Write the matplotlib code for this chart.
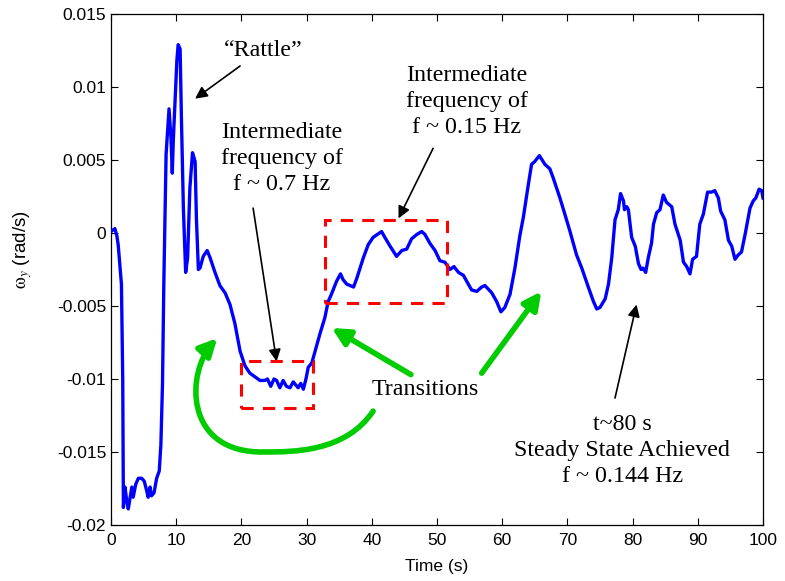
import numpy as np
import matplotlib.pyplot as plt
from matplotlib.path import Path
from matplotlib.patches import FancyArrowPatch, Rectangle

# ========== Data ==========
time_s = [0.0, 0.6, 0.9, 1.1, 1.6, 1.8, 1.9, 2.15, 2.4, 2.65, 3.2, 3.4, 3.8, 4.2, 4.7,
          5.1, 5.5, 5.7, 6.0, 6.2, 6.6, 7.0, 7.4, 7.65, 7.9, 8.1, 8.45, 8.9, 9.2, 9.4,
          9.55, 10.1, 10.3, 10.6, 10.8, 11.1, 11.45, 11.75, 12.1, 12.5, 12.9, 13.1, 13.4,
          13.65, 14.15, 14.75, 15.2, 15.95, 16.7, 17.5, 18.25, 19.0, 19.8, 20.55, 21.3,
          22.85, 23.6, 24.0, 24.5, 25.0, 25.4, 25.9, 26.4, 26.9, 27.45, 27.95, 28.7, 29.1,
          29.5, 29.9, 30.25, 30.8, 31.3, 32.05, 32.8, 33.3, 33.8, 34.6, 35.2, 35.6, 36.15,
          37.2, 37.7, 38.7, 39.45, 40.2, 40.85, 41.5, 42.0, 42.8, 43.8, 44.6, 45.35, 46.1,
          46.9, 47.65, 48.15, 48.9, 49.7, 50.45, 51.2, 52.0, 52.6, 53.3, 54.05, 54.8, 55.3,
          56.1, 56.85, 57.35, 58.4, 59.15, 59.8, 60.4, 61.2, 61.95, 62.7, 63.25, 64.0, 64.5,
          65.0, 65.7, 66.55, 67.3, 67.8, 68.85, 69.6, 70.4, 71.4, 72.2, 73.2, 74.0, 74.5,
          75.0, 75.8, 76.3, 76.8, 77.3, 77.8, 78.15, 78.6, 78.75, 79.1, 79.35, 79.85, 80.4,
          80.9, 81.3, 81.6, 82.0, 82.4, 82.9, 83.2, 83.7, 84.2, 84.7, 85.2, 86.0, 86.5,
          87.3, 87.8, 88.3, 88.8, 89.2, 89.8, 90.3, 90.85, 91.5, 92.1, 92.6, 93.15, 93.5,
          94.15, 94.7, 95.2, 95.7, 96.2, 96.7, 97.25, 98.0, 98.5, 98.9, 99.4, 99.8, 100.0]
omega_y = [0.0001, 0.0003, -0.0002, -0.0008, -0.0035, -0.0100, -0.0188, -0.0174, -0.0183,
           -0.0189, -0.0174, -0.0181, -0.0172, -0.0168, -0.0168, -0.0170, -0.0177, -0.0181,
           -0.0174, -0.0180, -0.0178, -0.0168, -0.0163, -0.0145, -0.0103, -0.0035, 0.0054,
           0.0085, 0.0065, 0.0041, 0.0063, 0.0118, 0.0129, 0.0126, 0.0079, 0.0017, -0.0027,
           -0.0017, 0.0031, 0.0055, 0.0049, 0.0010, -0.0025, -0.0024, -0.0016, -0.0012,
           -0.0017, -0.0027, -0.0036, -0.0041, -0.0049, -0.0062, -0.0081, -0.0091, -0.0096,
           -0.0101, -0.0101, -0.0100, -0.0105, -0.0100, -0.0101, -0.0106, -0.0101, -0.0105,
           -0.0106, -0.0102, -0.0106, -0.0103, -0.0107, -0.0100, -0.0092, -0.0089, -0.0081,
           -0.0069, -0.0058, -0.0047, -0.0042, -0.0033, -0.0028, -0.0032, -0.0035, -0.0037,
           -0.0031, -0.0017, -0.0008, -0.0003, -0.0001, 0.0001, -0.0003, -0.0009, -0.0016,
           -0.0012, -0.0011, -0.0004, -0.0001, 0.0001, -0.0001, -0.0007, -0.0012, -0.0019,
           -0.0020, -0.0025, -0.0023, -0.0027, -0.0029, -0.0035, -0.0039, -0.0040, -0.0037,
           -0.0036, -0.0041, -0.0047, -0.0054, -0.0051, -0.0042, -0.0024, -0.0002, 0.0011,
           0.0033, 0.0047, 0.0049, 0.0053, 0.0047, 0.0044, 0.0038, 0.0024, 0.0013, 0.0001,
           -0.0015, -0.0024, -0.0037, -0.0047, -0.0052, -0.0051, -0.0045, -0.0035, -0.0017,
           0.0009, 0.0016, 0.0027, 0.0022, 0.0016, 0.0018, 0.0016, -0.0003, -0.0009, -0.0021,
           -0.0025, -0.0024, -0.0027, -0.0017, -0.0007, 0.0006, 0.0014, 0.0016, 0.0026,
           0.0021, 0.0018, 0.0006, -0.0005, -0.0020, -0.0023, -0.0028, -0.0018, -0.0016,
           0.0006, 0.0013, 0.0028, 0.0028, 0.0029, 0.0024, 0.0015, 0.0009, -0.0005, -0.0009,
           -0.0018, -0.0015, -0.0013, -0.0001, 0.0017, 0.0022, 0.0024, 0.0030, 0.0029, 0.0024]

x_ticks = [0, 10, 20, 30, 40, 50, 60, 70, 80, 90, 100]
y_ticks = [-0.02, -0.015, -0.01, -0.005, 0, 0.005, 0.01, 0.015]
y_tick_labels = ["-0.02", "-0.015", "-0.01", "-0.005", "0", "0.005", "0.01", "0.015"]

# ========== Figure ==========
plt.rcParams['font.family'] = 'Liberation Sans'
plt.rcParams['mathtext.fontset'] = 'stix'

fig = plt.figure(figsize=(7.85, 5.81), dpi=100)
ax = fig.add_axes([0.1414, 0.0964, 0.8306, 0.8795])

ax.plot(time_s, omega_y, color='#0000ff', lw=2.4, zorder=3)

ax.set_xlim(0, 100)
ax.set_ylim(-0.02, 0.015)
ax.set_xticks(x_ticks)
ax.set_yticks(y_ticks)
ax.set_yticklabels(y_tick_labels)
ax.tick_params(direction='in', top=True, right=True, labelsize=12.5, length=5, width=0.8)
ax.tick_params(axis='x', pad=6)
for sp in ax.spines.values():
    sp.set_linewidth(0.9)

ax.set_xlabel("Time (s)", fontsize=12.5, labelpad=8)
ax.set_ylabel(r"$\mathrm{\omega}_y$ (rad/s)", fontsize=13.5, labelpad=14)
ax.yaxis.set_label_coords(-0.118, 0.54)

# ========== Annotations ==========
serif = dict(family='Liberation Serif', fontsize=17.3, ha='center', va='center',
             linespacing=1.33)
black_arrow = dict(arrowstyle='-|>', color='black', lw=1.2, mutation_scale=18,
                   shrinkA=0, shrinkB=0)
green = '#00cc00'
green_arrow = dict(arrowstyle='-|>', color=green, lw=4, mutation_scale=26,
                   shrinkA=0, shrinkB=0)

ax.text(23.3, 0.01247, "\u201cRattle\u201d", **serif)
ax.annotate('', xy=(12.9, 0.0092), xytext=(19.8, 0.01144), arrowprops=black_arrow)

ax.text(26.2, 0.0051, "Intermediate\nfrequency of\nf ~ 0.7 Hz", **serif)
ax.annotate('', xy=(25.4, -0.0088), xytext=(21.8, 0.0017), arrowprops=black_arrow)

ax.text(54.6, 0.0090, "Intermediate\nfrequency of\nf ~ 0.15 Hz", **serif)
ax.annotate('', xy=(44.1, 0.0010), xytext=(49.4, 0.0058), arrowprops=black_arrow)

ax.text(78.4, -0.0149, "t~80 s\nSteady State Achieved\nf ~ 0.144 Hz", **serif)
ax.annotate('', xy=(80.6, -0.0049), xytext=(77.3, -0.0113), arrowprops=black_arrow)

ax.text(48.2, -0.0107, "Transitions", **serif)

# red dashed boxes
for (x0, x1, y0, y1) in [(20.0, 31.0, -0.0120, -0.0088), (32.8, 51.5, -0.0048, 0.0009)]:
    ax.add_patch(Rectangle((x0, y0), x1 - x0, y1 - y0, fill=False, ec='#ff0000',
                           lw=2.2, ls=(0, (4, 3)), zorder=4))

# green transition arrows
ax.annotate('', xy=(33.85, -0.0065), xytext=(46.0, -0.0097), arrowprops=green_arrow)
ax.annotate('', xy=(66.0, -0.0040), xytext=(56.85, -0.0096), arrowprops=green_arrow)

curve = Path([(40.2, -0.0122), (36.0, -0.0150), (28.0, -0.0150), (23.5, -0.0150),
              (11.0, -0.0151), (11.5, -0.0095), (16.3, -0.0072)],
             [Path.MOVETO, Path.CURVE4, Path.CURVE4, Path.CURVE4,
              Path.CURVE4, Path.CURVE4, Path.CURVE4])
ax.add_patch(FancyArrowPatch(path=curve, arrowstyle='-|>', color=green, lw=4,
                             mutation_scale=26, transform=ax.transData))

fig.savefig("out.png", dpi=100)
